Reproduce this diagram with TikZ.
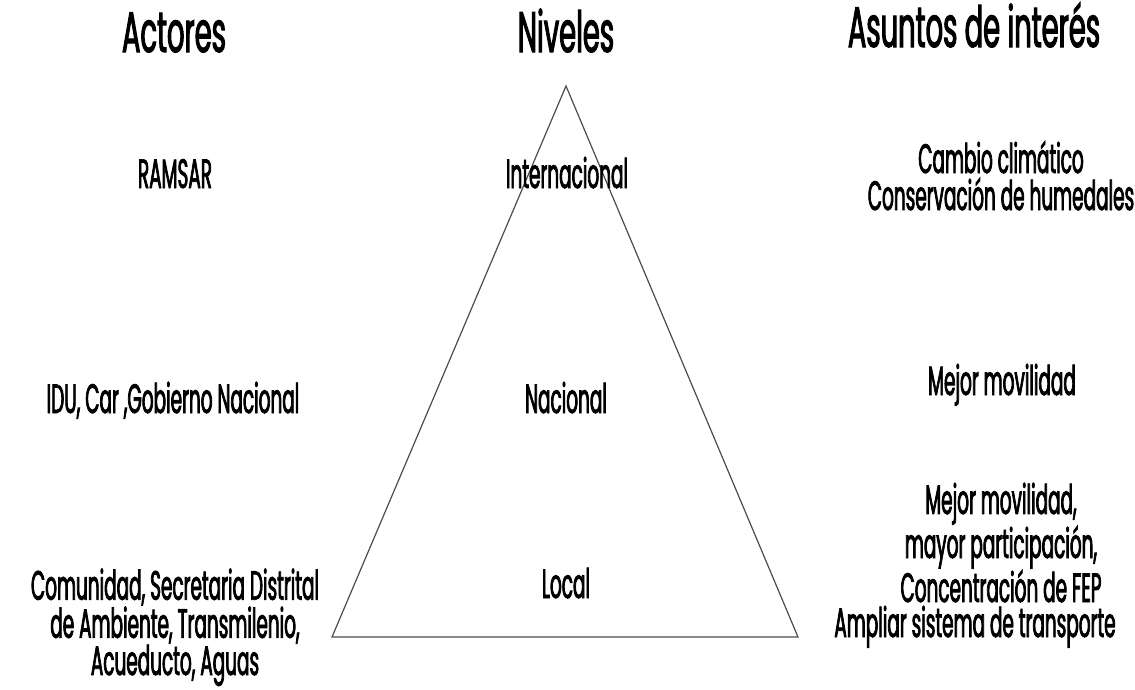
\documentclass[tikz,border=0pt]{standalone}
\usepackage{fontspec}
\newfontfamily\cond{Poppins}[FakeStretch=0.45,FakeBold=1.8]
\newfontfamily\condt{Poppins}[FakeStretch=0.48,FakeBold=1.8]
\tikzset{
  lbl/.style={inner sep=0pt, anchor=base, align=center, text=black,
    font={\cond\fontsize{41}{35}\selectfont}},
  ttl/.style={inner sep=0pt, anchor=base, text=black,
    font={\condt\fontsize{57}{57}\selectfont}},
  tri/.style={draw=black!70, line width=1.2pt, line join=miter}
}
\begin{document}
\begin{tikzpicture}[x=1pt,y=-1pt]
\useasboundingbox (0,0) rectangle (1135,689);
% triangle
\coordinate (apex) at (566,86);
\coordinate (bl) at (332,637);
\coordinate (br) at (798,637);
\draw[tri] (apex) -- (bl) -- (br) -- cycle;
% titles
\node[ttl] (tact) at (174,52) {Actores};
\node[ttl] (tniv) at (566,52) {Niveles};
\node[ttl] (tasu) at (974,47) {Asuntos de interés};
% row 1
\node[lbl] (ramsar) at (175,188) {RAMSAR};
\node[lbl] (inter) at (567,188) {Internacional};
\node[lbl, font={\cond\fontsize{41}{37}\selectfont}] (cambio) at (1001,210) {Cambio climático\\Conservación de humedales};
% row 2
\node[lbl] (idu) at (173,413) {IDU, Car ,Gobierno Nacional};
\node[lbl] (nac) at (566,413) {Nacional};
\node[lbl] (mejor) at (1002,395) {Mejor movilidad};
% row 3
\node[lbl] (local) at (566,598) {Local};
\node[lbl, font={\cond\fontsize{41}{34}\selectfont}] (comu) at (175,675) {Comunidad, Secretaria Distrital\\de Ambiente, Transmilenio,\\Acueducto, Aguas};
\node[lbl] (mejor2) at (1001,637) {Mejor movilidad,\\mayor participación,\\Concentración de FEP\\Ampliar sistema de transporte\hspace*{52pt}};
\end{tikzpicture}
\end{document}
